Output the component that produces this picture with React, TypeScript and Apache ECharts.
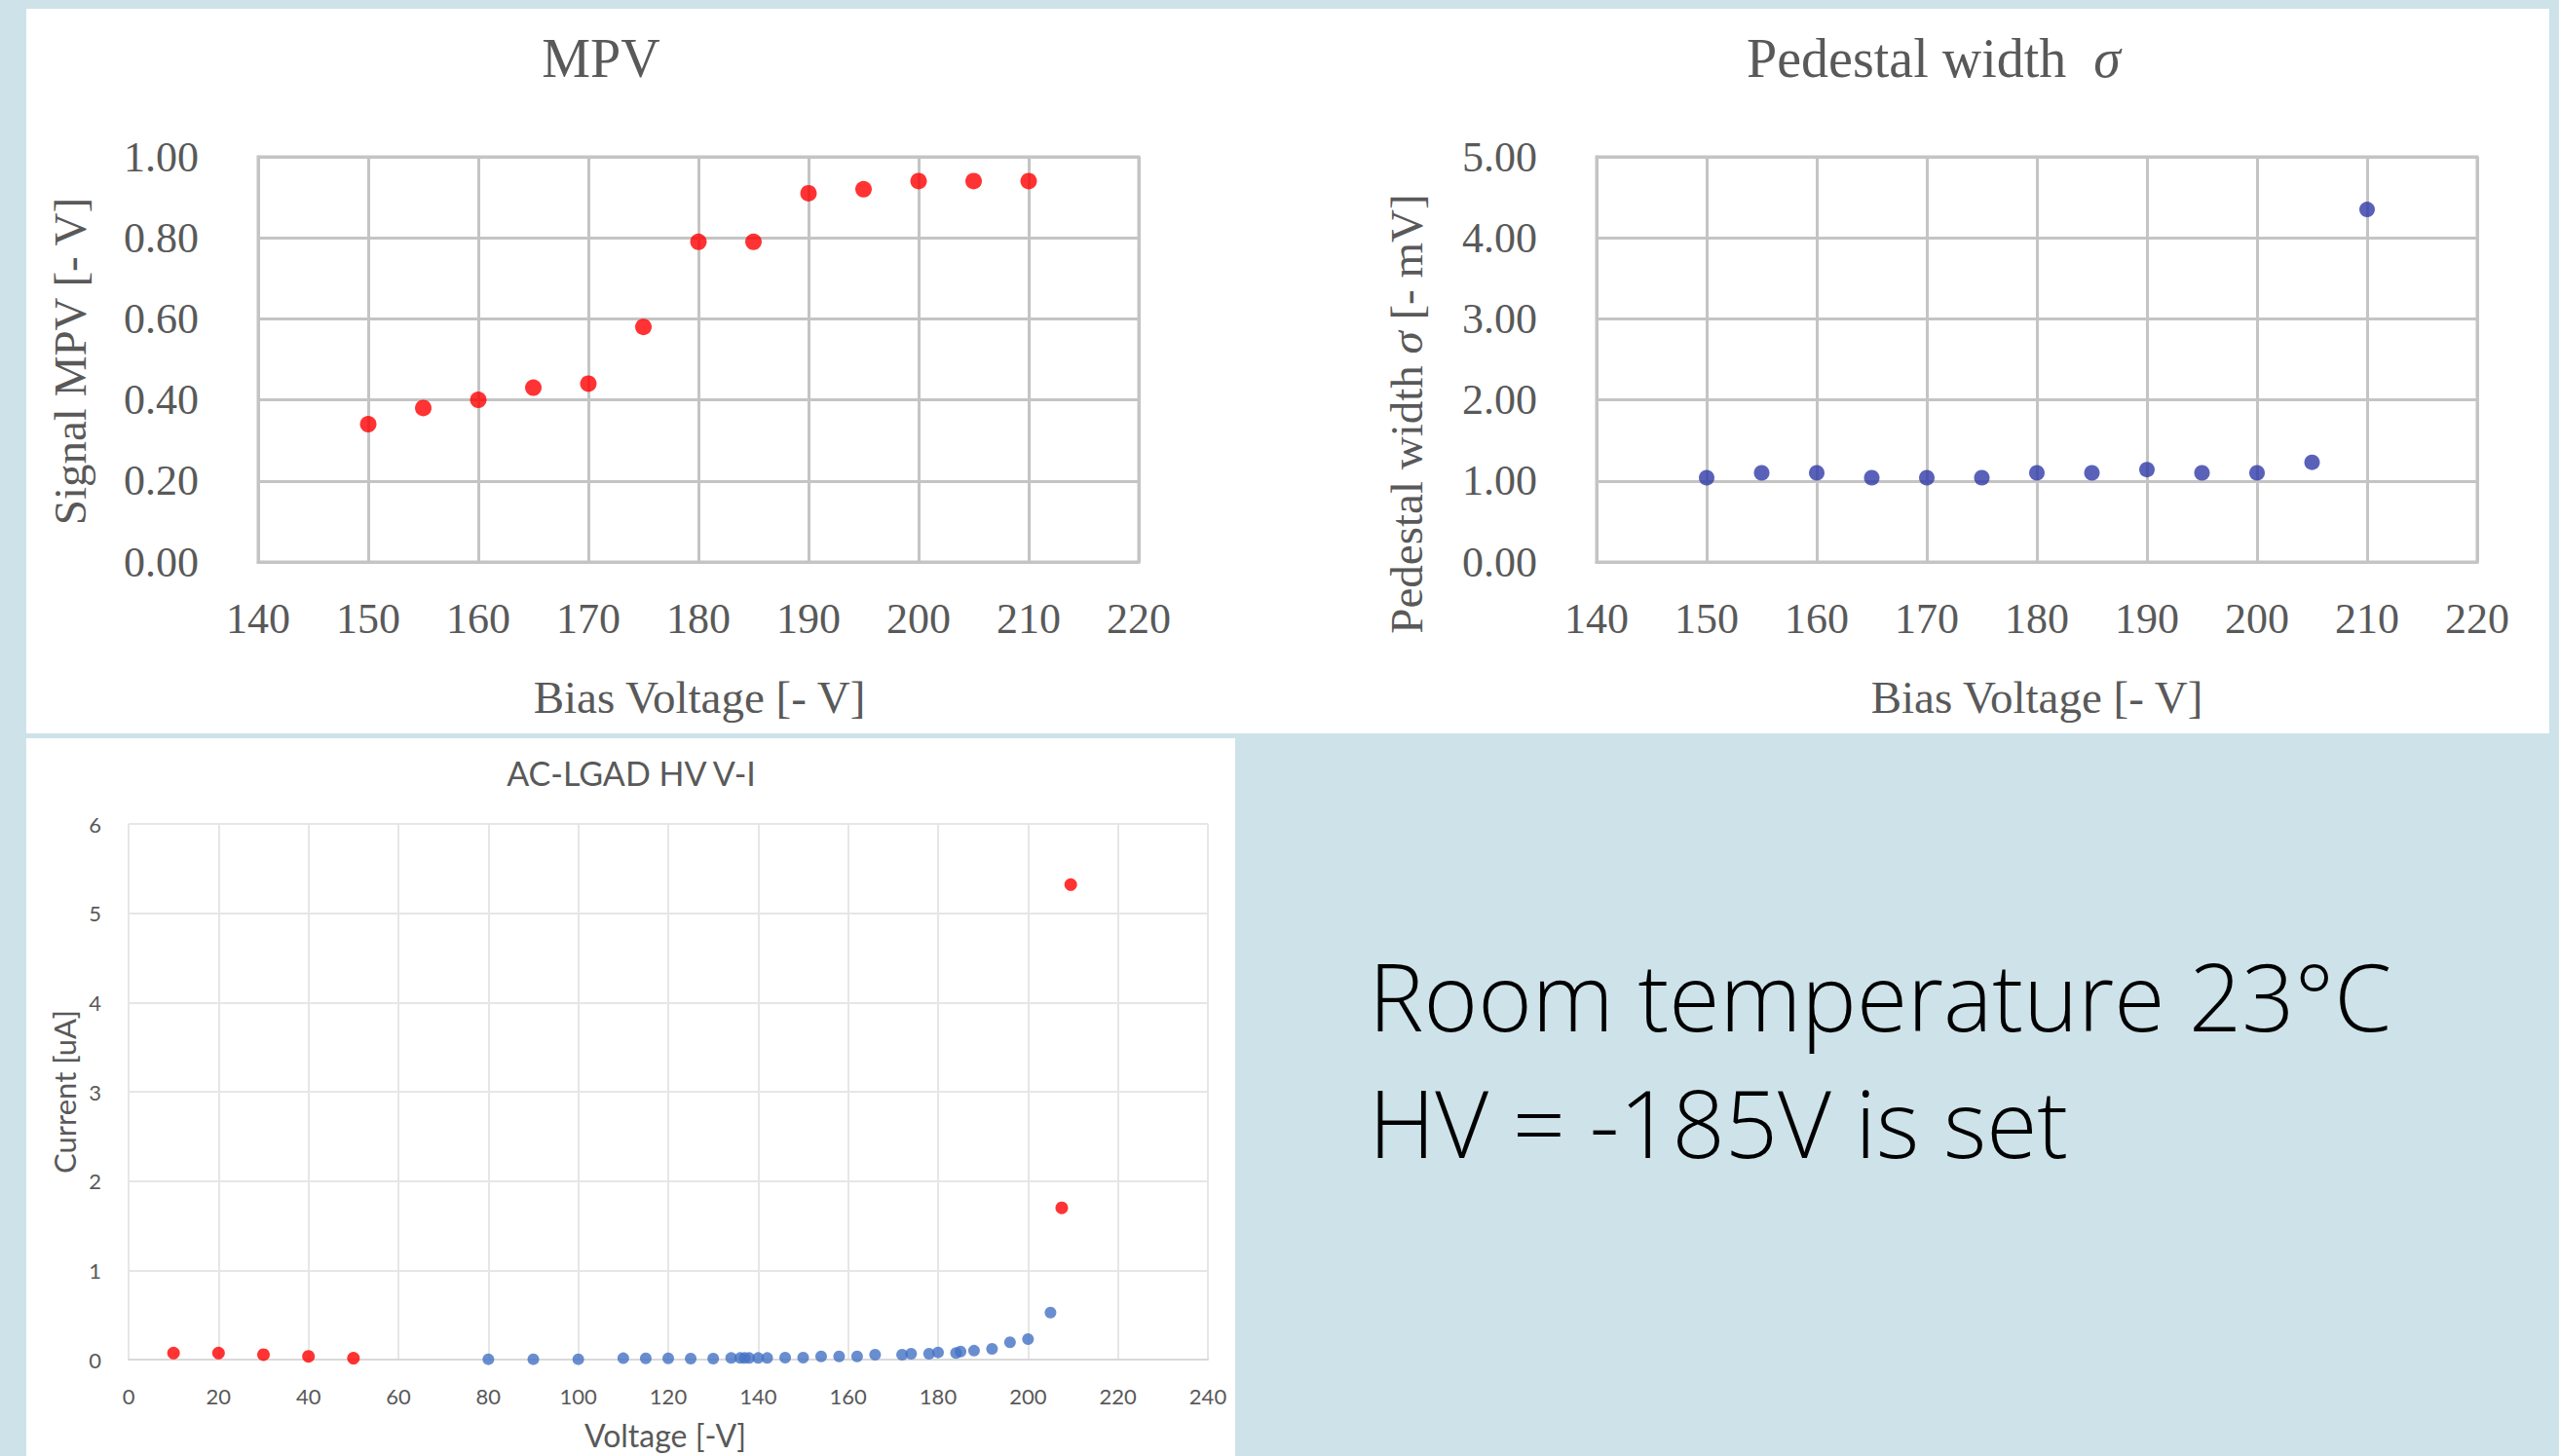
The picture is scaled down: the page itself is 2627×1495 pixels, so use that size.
import React, { useEffect, useRef } from "react";
import * as echarts from "echarts";

// ---------- data ----------
const biasVoltage = [150, 155, 160, 165, 170, 175, 180, 185, 190, 195, 200, 205, 210];
const mpvValues = [0.34, 0.38, 0.4, 0.43, 0.44, 0.58, 0.79, 0.79, 0.91, 0.92, 0.94, 0.94, 0.94];
const pedestalValues = [1.04, 1.1, 1.1, 1.04, 1.04, 1.04, 1.1, 1.1, 1.14, 1.1, 1.1, 1.23, 4.35];

const ivRedVoltage = [10, 20, 30, 40, 50, 207.5, 209.5];
const ivRedCurrent = [0.073, 0.073, 0.055, 0.036, 0.015, 1.7, 5.32];
const ivBlueVoltage = [
  80, 90, 100, 110, 115, 120, 125, 130, 134, 136, 137, 138, 140, 142, 146, 150, 154, 158, 162,
  166, 172, 174, 178, 180, 184, 185, 188, 192, 196, 200, 205,
];
const ivBlueCurrent = [
  0.004, 0.004, 0.004, 0.015, 0.013, 0.013, 0.011, 0.011, 0.018, 0.018, 0.018, 0.018, 0.018,
  0.018, 0.022, 0.022, 0.036, 0.036, 0.036, 0.055, 0.055, 0.065, 0.065, 0.08, 0.073, 0.09, 0.1,
  0.12, 0.193, 0.229, 0.527,
];

const biasTicks = [140, 220, 10]; // min, max, step
const mpvTicks = [0, 1, 0.2];
const pedTicks = [0, 5, 1];
const ivVoltTicks = [0, 240, 20];
const ivCurTicks = [0, 6, 1];

const titles = {
  mpv: "MPV",
  ped: "Pedestal width  ",
  pedSigma: "σ",
  biasX: "Bias Voltage [- V]",
  mpvY: "Signal MPV [- V]",
  pedY: "Pedestal width ",
  pedYUnit: " [- mV]",
  iv: "AC-LGAD HV V-I",
  ivX: "Voltage [-V]",
  ivY: "Current [uA]",
  note1: "Room temperature 23°C",
  note2: "HV = -185V is set",
};

// ---------- styles ----------
const W = 2627;
const H = 1495;
const BG = "#cde3e9";
const SERIF = '"Liberation Serif", "DejaVu Serif", serif';
const SANS = 'Lato, "Open Sans", "Liberation Sans", sans-serif';
const NOTE_FONT = '"Open Sans", Lato, "Liberation Sans", sans-serif';
const GRAY = "#595959";
const TOP_GRID = "#c4c4c4";

function serifAxes(gridIndex: number, ticks: number[], yFmt: number) {
  return {
    x: {
      type: "value",
      gridIndex,
      min: biasTicks[0],
      max: biasTicks[1],
      interval: biasTicks[2],
      axisLine: { show: true, lineStyle: { color: TOP_GRID, width: 3 } },
      axisTick: { show: false },
      splitLine: { show: true, lineStyle: { color: TOP_GRID, width: 3 } },
      axisLabel: { color: GRAY, fontFamily: SERIF, fontSize: 44, margin: 36 },
    },
    y: {
      type: "value",
      gridIndex,
      min: ticks[0],
      max: ticks[1],
      interval: ticks[2],
      axisLine: { show: true, lineStyle: { color: TOP_GRID, width: 3 } },
      axisTick: { show: false },
      splitLine: { show: true, lineStyle: { color: TOP_GRID, width: 3 } },
      axisLabel: {
        color: GRAY,
        fontFamily: SERIF,
        fontSize: 44,
        margin: 61,
        formatter: (v: number) => v.toFixed(yFmt),
      },
    },
  };
}

function zip(a: number[], b: number[]) {
  return a.map((v, i) => [v, b[i]]);
}

function buildOption() {
  const a0 = serifAxes(0, mpvTicks, 2);
  const a1 = serifAxes(1, pedTicks, 2);
  const ivX = {
    type: "value",
    gridIndex: 2,
    min: ivVoltTicks[0],
    max: ivVoltTicks[1],
    interval: ivVoltTicks[2],
    axisLine: { show: true, lineStyle: { color: "#d9d9d9", width: 2 } },
    axisTick: { show: false },
    splitLine: { show: true, lineStyle: { color: "#e6e6e6", width: 2 } },
    axisLabel: { color: GRAY, fontFamily: SANS, fontSize: 22, margin: 26 },
  };
  const ivY = {
    type: "value",
    gridIndex: 2,
    min: ivCurTicks[0],
    max: ivCurTicks[1],
    interval: ivCurTicks[2],
    axisLine: { show: false },
    axisTick: { show: false },
    splitLine: { show: true, lineStyle: { color: "#e6e6e6", width: 2 } },
    axisLabel: { color: GRAY, fontFamily: SANS, fontSize: 22, margin: 28 },
  };

  const serifText = (text: string, x: number, y: number, size: number, rot = 0) => ({
    type: "text",
    x,
    y,
    rotation: rot,
    style: {
      text,
      fill: GRAY,
      font: `${size}px ${SERIF}`,
      textAlign: "center",
      textVerticalAlign: "middle",
    },
  });

  return {
    animation: false,
    backgroundColor: "transparent",
    grid: [
      { left: 265, top: 161, width: 904, height: 416, show: true, borderColor: TOP_GRID, borderWidth: 3 },
      { left: 1639, top: 161, width: 904, height: 416, show: true, borderColor: TOP_GRID, borderWidth: 3 },
      { left: 132, top: 846, width: 1108, height: 550, show: false },
    ],
    xAxis: [a0.x, a1.x, ivX],
    yAxis: [a0.y, a1.y, ivY],
    series: [
      {
        type: "scatter",
        xAxisIndex: 0,
        yAxisIndex: 0,
        symbolSize: 17,
        itemStyle: { color: "#ff0000" },
        data: zip(biasVoltage, mpvValues),
      },
      {
        type: "scatter",
        xAxisIndex: 1,
        yAxisIndex: 1,
        symbolSize: 16,
        itemStyle: { color: "#2f3ba6" },
        data: zip(biasVoltage, pedestalValues),
      },
      {
        type: "scatter",
        xAxisIndex: 2,
        yAxisIndex: 2,
        symbolSize: 12,
        itemStyle: { color: "#4472c4" },
        data: zip(ivBlueVoltage, ivBlueCurrent),
      },
      {
        type: "scatter",
        xAxisIndex: 2,
        yAxisIndex: 2,
        symbolSize: 13,
        itemStyle: { color: "#ff0000" },
        data: zip(ivRedVoltage, ivRedCurrent),
      },
    ],
    graphic: {
      elements: [
        serifText(titles.mpv, 617, 60, 56),
        {
          type: "text",
          x: 1985,
          y: 60,
          style: {
            text: `{a|${titles.ped}}{b|${titles.pedSigma}}`,
            textAlign: "center",
            textVerticalAlign: "middle",
            rich: {
              a: { fontFamily: SERIF, fontSize: 56, fill: GRAY, color: GRAY },
              b: { fontFamily: SERIF, fontSize: 56, fontStyle: "italic", fill: GRAY, color: GRAY },
            },
          },
        },
        serifText(titles.biasX, 718, 716, 47),
        serifText(titles.biasX, 2091, 716, 47),
        serifText(titles.mpvY, 72, 371, 47, Math.PI / 2),
        {
          type: "text",
          x: 1444,
          y: 425,
          rotation: Math.PI / 2,
          style: {
            text: `{a|${titles.pedY}}{b|${titles.pedSigma}}{a|${titles.pedYUnit}}`,
            textAlign: "center",
            textVerticalAlign: "middle",
            rich: {
              a: { fontFamily: SERIF, fontSize: 47, fill: GRAY, color: GRAY },
              b: { fontFamily: SERIF, fontSize: 47, fontStyle: "italic", fill: GRAY, color: GRAY },
            },
          },
        },
        {
          type: "text",
          x: 648,
          y: 793,
          style: {
            text: titles.iv,
            fill: GRAY,
            font: `34px ${SANS}`,
            textAlign: "center",
            textVerticalAlign: "middle",
          },
        },
        {
          type: "text",
          x: 683,
          y: 1473,
          style: {
            text: titles.ivX,
            fill: GRAY,
            font: `32px ${SANS}`,
            textAlign: "center",
            textVerticalAlign: "middle",
          },
        },
        {
          type: "text",
          x: 66,
          y: 1121,
          rotation: Math.PI / 2,
          style: {
            text: titles.ivY,
            fill: GRAY,
            font: `31px ${SANS}`,
            textAlign: "center",
            textVerticalAlign: "middle",
          },
        },
        {
          type: "text",
          x: 1405,
          y: 1022,
          style: {
            text: titles.note1,
            fill: "#000000",
            font: `300 95px ${NOTE_FONT}`,
            textAlign: "left",
            textVerticalAlign: "middle",
          },
        },
        {
          type: "text",
          x: 1405,
          y: 1152,
          style: {
            text: titles.note2,
            fill: "#000000",
            font: `300 95px ${NOTE_FONT}`,
            textAlign: "left",
            textVerticalAlign: "middle",
          },
        },
      ],
    },
  };
}

export default function App() {
  const ref = useRef<HTMLDivElement>(null);
  useEffect(() => {
    document.body.style.margin = "0";
    const chart = echarts.init(ref.current as HTMLDivElement, null, {
      renderer: "svg",
      width: W,
      height: H,
    });
    chart.setOption(buildOption() as any);
    return () => chart.dispose();
  }, []);
  return (
    <div style={{ position: "relative", width: W, height: H, background: BG, overflow: "hidden" }}>
      <div style={{ position: "absolute", left: 27, top: 9, width: 2590, height: 744, background: "#ffffff" }} />
      <div style={{ position: "absolute", left: 27, top: 758, width: 1241, height: 737, background: "#ffffff" }} />
      <div ref={ref} style={{ position: "absolute", left: 0, top: 0, width: W, height: H }} />
    </div>
  );
}
